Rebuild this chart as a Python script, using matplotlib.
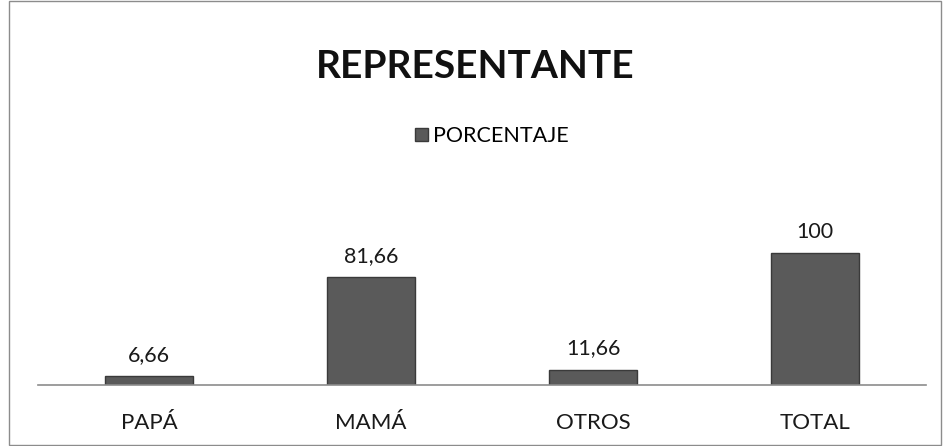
import matplotlib.pyplot as plt
from matplotlib.patches import Rectangle

categorias = ["PAPÁ", "MAMÁ", "OTROS", "TOTAL"]
porcentaje = [6.66, 81.66, 11.66, 100]
etiquetas = ["6,66", "81,66", "11,66", "100"]

plt.rcParams['font.family'] = ['Lato', 'DejaVu Sans']

fig = plt.figure(figsize=(9.43, 4.46), dpi=100)
ax = fig.add_axes([38 / 943, 1 - 385 / 446, 888 / 943, 158.4 / 446])

x = range(len(categorias))
bars = ax.bar(x, porcentaje, width=0.4, color='#5a5a5a', edgecolor='#3a3a3a',
              linewidth=1.0, label='PORCENTAJE')

for xi, v, lab in zip(x, porcentaje, etiquetas):
    ax.annotate(lab, (xi, v), xytext=(0, 8), textcoords='offset points',
                ha='center', va='bottom', fontsize=15.5, color='#1a1a1a')

ax.set_xlim(-0.5, 3.5)
ax.set_ylim(0, 120)
ax.set_xticks(list(x))
ax.set_xticklabels(categorias, fontsize=16, color='#1a1a1a')
ax.tick_params(axis='x', length=0, pad=20)
ax.set_yticks([])
for s in ['top', 'right', 'left']:
    ax.spines[s].set_visible(False)
ax.spines['bottom'].set_color('#8c8c8c')
ax.spines['bottom'].set_linewidth(1.2)

fig.text(475 / 943, 1 - 67 / 446, "REPRESENTANTE", ha='center', va='center',
         fontsize=28, fontweight='bold', color='#111111')

leg = fig.legend(handles=[bars], labels=['PORCENTAJE'], loc='center',
                 bbox_to_anchor=(492 / 943, 1 - 136 / 446), frameon=False,
                 fontsize=15.5, handlelength=0.6, handleheight=0.6,
                 handletextpad=0.25)

# marco del gráfico
fig.patches.append(Rectangle((9 / 943, 0.002), 932 / 943, 0.995, transform=fig.transFigure,
                             fill=False, edgecolor='#8c8c8c', linewidth=1.0))

fig.savefig("out.png", dpi=100)
